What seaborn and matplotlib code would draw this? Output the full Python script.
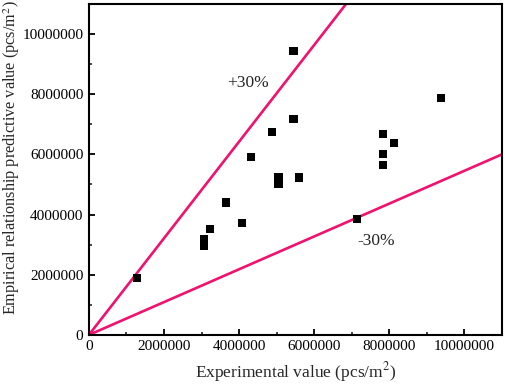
import matplotlib
matplotlib.use("Agg")
import pandas as pd
import seaborn as sns
from matplotlib import pyplot as plt
from matplotlib.ticker import MultipleLocator

# experimental vs predicted (pcs/m2)
experimental = [1270000, 3070000, 3070000, 3230000, 3650000, 4070000, 4320000, 4870000,
                5050000, 5050000, 5450000, 5450000, 5600000, 7140000, 7830000, 7830000,
                7830000, 8120000, 9370000]
predicted = [1880000, 3180000, 2960000, 3510000, 4400000, 3710000, 5920000, 6730000,
             5260000, 5020000, 9430000, 7180000, 5230000, 3850000, 6680000, 6010000,
             5640000, 6390000, 7860000]

# +30% / -30% bound lines
upper_x = [0, 6850000]
upper_y = [0, 11000000]
lower_x = [0, 11000000]
lower_y = [0, 6000000]

LINE_COLOR = "#F0126E"

sns.set_style("ticks")
plt.rcParams["font.family"] = ["Liberation Serif", "DejaVu Serif"]
plt.rcParams["mathtext.fontset"] = "stix"

data = pd.DataFrame({"x": experimental, "y": predicted})

fig = plt.figure(figsize=(5.05, 3.89), dpi=100)
ax = fig.add_axes([0.176, 0.139, 0.818, 0.851])

ax.plot(upper_x, upper_y, color=LINE_COLOR, lw=1.9, zorder=2)
ax.plot(lower_x, lower_y, color=LINE_COLOR, lw=1.9, zorder=2)
sns.scatterplot(data, x="x", y="y", marker="s", s=34, color="black",
                edgecolor="none", ax=ax, zorder=3)

ax.text(4240000, 8370000, "+30%", ha="center", va="center", fontsize=12.5)
ax.text(7650000, 3120000, "-30%", ha="center", va="center", fontsize=12.5)

ax.set_xlim(0, 11000000)
ax.set_ylim(0, 11000000)
ax.xaxis.set_major_locator(MultipleLocator(2000000))
ax.xaxis.set_minor_locator(MultipleLocator(1000000))
ax.yaxis.set_major_locator(MultipleLocator(2000000))
ax.yaxis.set_minor_locator(MultipleLocator(1000000))
ax.ticklabel_format(style="plain", useOffset=False)
ax.tick_params(which="major", direction="in", length=4, width=1.3, labelsize=11,
               colors="black", pad=4)
ax.tick_params(which="minor", direction="in", length=2.5, width=1.2)
for sp in ax.spines.values():
    sp.set_linewidth(1.5)
    sp.set_color("black")

ax.set_xlabel("Experimental value (pcs/m$^2$)", fontsize=12.5, labelpad=5)
ax.set_ylabel("Empirical relationship predictive value (pcs/m$^2$)", fontsize=11.7)
ax.yaxis.set_label_coords(-0.162, 0.535)

plt.savefig("out.png", dpi=100)
plt.close()
